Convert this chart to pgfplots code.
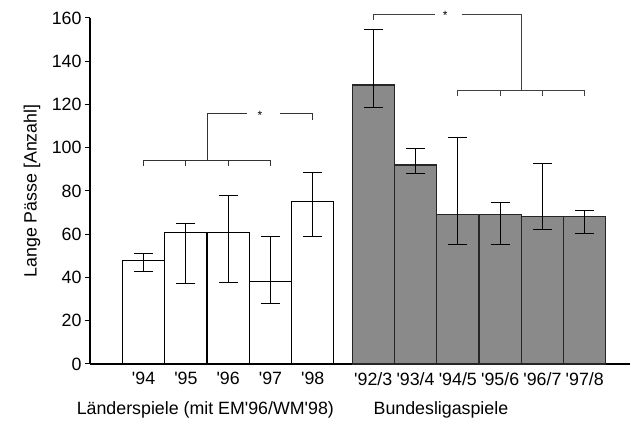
\documentclass[border=0pt]{standalone}
\usepackage{pgfplots}
\pgfplotsset{compat=1.18}
\usepackage{pgfplotstable}
\usepackage{fontspec}
\setmainfont{Liberation Sans}
\definecolor{barg}{RGB}{138,138,138}
\newcommand{\q}{\textquotesingle}

% Laenderspiele: Mittelwert, Fehler nach oben / unten
\pgfplotstableread{
x y ep em
0 48 2.9 5.1
1 61 4.0 23.9
2 61 17.0 23.1
3 38 20.9 10.0
4 75 13.8 16.1
}\laender

% Bundesligaspiele
\pgfplotstableread{
x y ep em
5.43 129 25.7 10.2
6.43 92 7.7 4.0
7.43 69 35.8 13.8
8.43 69 5.9 13.8
9.43 68 24.9 5.9
10.43 68 3.2 7.7
}\bundes

\begin{document}
\begin{tikzpicture}[font=\fontsize{17.8}{21}\selectfont]
\useasboundingbox (-90pt,-59pt) rectangle (540pt,364pt);
\begin{axis}[
    at={(0,0)}, anchor=south west,
    width=540pt, height=346pt,
    scale only axis,
    clip=false,
    xmin=-1.267, xmax=11.5,
    ymin=0, ymax=160,
    axis x line*=bottom,
    axis y line*=left,
    axis line style={-, line width=1.2pt},
    ytick={0,20,...,160},
    ytick pos=left,
    tick align=outside,
    major tick length=5pt,
    tick style={line width=1pt, black},
    xtick={0,1,2,3,4,5.43,6.43,7.43,8.43,9.43,10.43},
    xticklabels={\q94,\q95,\q96,\q97,\q98,\q92/3,\q93/4,\q94/5,\q95/6,\q96/7,\q97/8},
    x tick style={draw=none},
    tick label style={font=\fontsize{17.8}{21}\selectfont},
    /pgf/number format/assume math mode=true,
    ylabel={Lange Pässe [Anzahl]},
    every axis y label/.style={at={(axis description cs:-0.1074,0.5)}, rotate=90, anchor=center},
    label style={font=\fontsize{17.8}{21}\selectfont},
]
\addplot[ybar, bar width=1, bar shift=0pt, fill=white, draw=black, line width=1.1pt,
    error bars/.cd, y dir=both, y explicit,
    error bar style={line width=0.9pt, black},
    error mark options={rotate=90, mark size=9.5pt, line width=0.9pt, black}]
    table[x=x, y=y, y error plus=ep, y error minus=em] {\laender};
\addplot[ybar, bar width=1, bar shift=0pt, fill=barg, draw=black!85, line width=1.1pt,
    error bars/.cd, y dir=both, y explicit,
    error bar style={line width=0.9pt, black},
    error mark options={rotate=90, mark size=9.5pt, line width=0.9pt, black}]
    table[x=x, y=y, y error plus=ep, y error minus=em] {\bundes};

% Signifikanzklammer Laenderspiele
\draw[line width=0.9pt, black!80]
    (axis cs:0,91.7) -- (axis cs:0,94.2) -- (axis cs:3,94.2) -- (axis cs:3,91.7);
\draw[line width=0.9pt, black!80] (axis cs:1,94.2) -- (axis cs:1,91.7);
\draw[line width=0.9pt, black!80] (axis cs:2,94.2) -- (axis cs:2,91.7);
\draw[line width=0.9pt, black!80]
    (axis cs:1.5,94.2) -- (axis cs:1.5,115.7) -- (axis cs:2.44,115.7);
\draw[line width=0.9pt, black!80]
    (axis cs:3.22,115.7) -- (axis cs:4,115.7) -- (axis cs:4,113);
\node[font=\fontsize{12}{12}\selectfont] at (axis cs:2.75,115.0) {*};

% Signifikanzklammer Bundesliga
\draw[line width=0.9pt, black!75]
    (axis cs:5.43,159) -- (axis cs:5.43,161.7) -- (axis cs:6.89,161.7);
\draw[line width=0.9pt, black!75]
    (axis cs:7.52,161.7) -- (axis cs:8.93,161.7) -- (axis cs:8.93,126.4);
\node[font=\fontsize{12}{12}\selectfont] at (axis cs:7.13,161.0) {*};
\draw[line width=0.9pt, black!75]
    (axis cs:7.43,123.7) -- (axis cs:7.43,126.4) -- (axis cs:10.43,126.4) -- (axis cs:10.43,123.7);
\draw[line width=0.9pt, black!75] (axis cs:8.43,126.4) -- (axis cs:8.43,123.7);
\draw[line width=0.9pt, black!75] (axis cs:9.43,126.4) -- (axis cs:9.43,123.7);

% Gruppenbeschriftungen
\node at (axis cs:1.46,0) [yshift=-46pt] {Länderspiele (mit EM\q96/WM\q98)};
\node at (axis cs:7.03,0) [yshift=-46pt] {Bundesligaspiele};
\end{axis}
\end{tikzpicture}
\end{document}
